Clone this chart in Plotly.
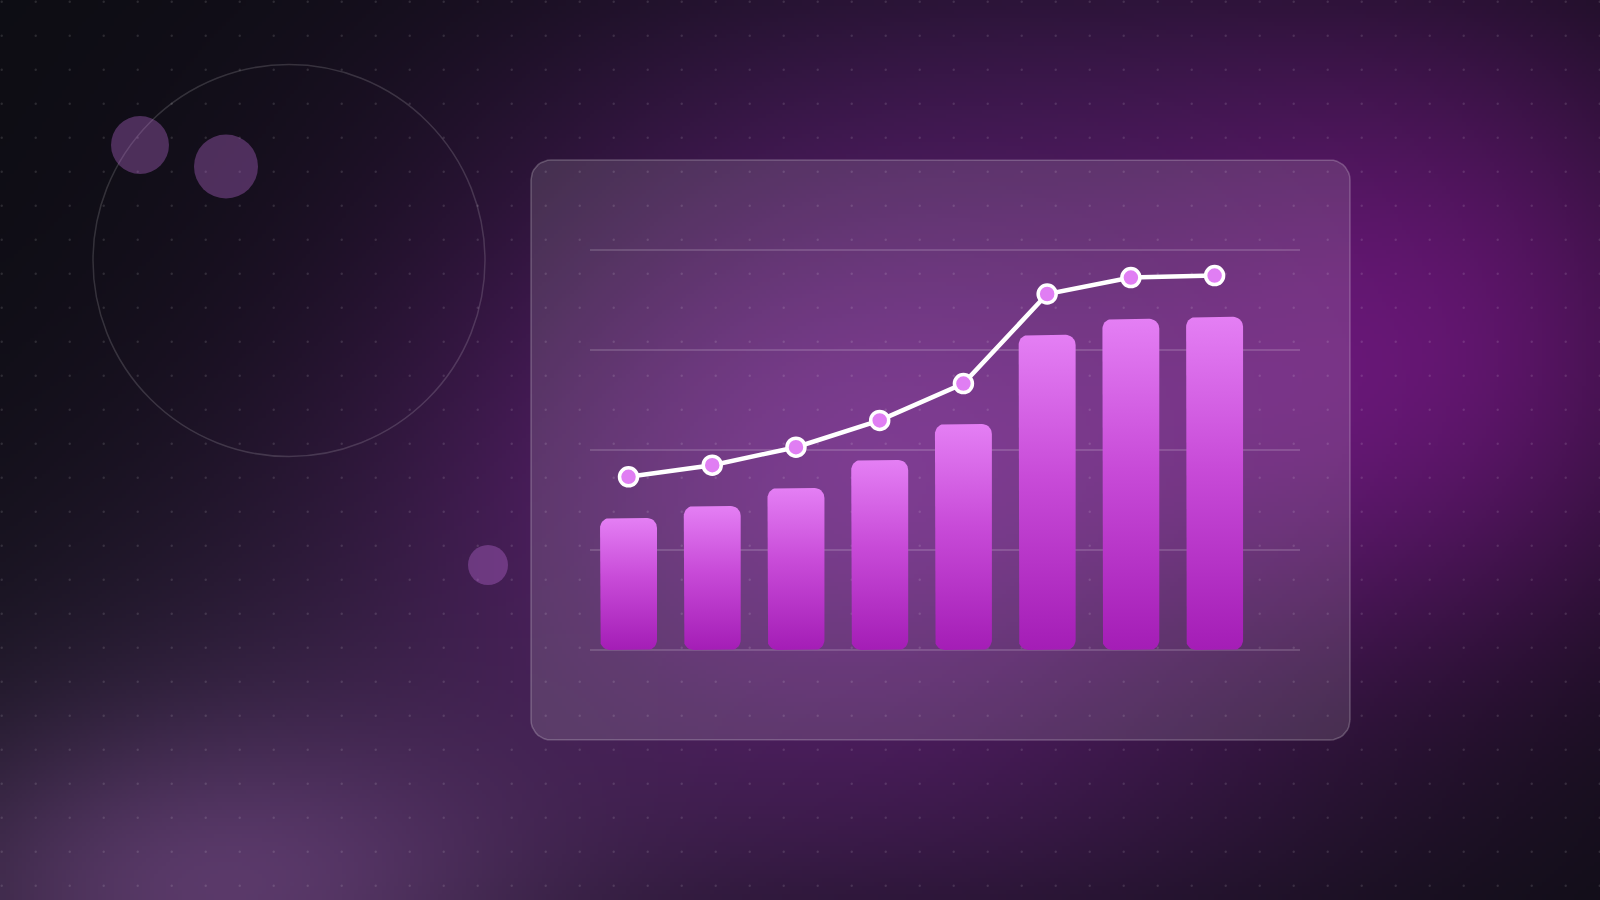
import base64
import struct
import zlib

import numpy as np
import plotly.graph_objects as go

W, H = 1600, 900

# ---------------- chart data ----------------
periods = ["P1", "P2", "P3", "P4", "P5", "P6", "P7", "P8"]
bar_values = [33.0, 36.0, 40.5, 47.5, 56.5, 78.8, 82.8, 83.3]
line_values = [43.3, 46.2, 50.7, 57.4, 66.6, 89.0, 93.1, 93.6]
grid_ticks = [0, 25, 50, 75, 100]

# ---------------- styling ----------------
BAR_TOP = "#e47ff4"
BAR_MID = "#c84bd8"
BAR_BOT = "#a41db6"
MARKER_FILL = "#e07ef3"
X_RANGE = [-0.46, 8.02]
Y_RANGE = [-0.5, 100.5]
PLOT_X0, PLOT_X1 = 590, 1300          # px
PLOT_Y0, PLOT_Y1 = 248, 652           # px (top, bottom)
BAR_HALF = 0.34
BAR_RADIUS_PX = 10


# ---------------- background picture (pure decoration) ----------------
def png_data_uri(arr):
    h, w, _ = arr.shape
    raw = b"".join(b"\x00" + arr[r].tobytes() for r in range(h))

    def chunk(tag, data):
        return (struct.pack(">I", len(data)) + tag + data
                + struct.pack(">I", zlib.crc32(tag + data) & 0xFFFFFFFF))

    png = (b"\x89PNG\r\n\x1a\n"
           + chunk(b"IHDR", struct.pack(">IIBBBBB", w, h, 8, 2, 0, 0, 0))
           + chunk(b"IDAT", zlib.compress(raw, 9))
           + chunk(b"IEND", b""))
    return "data:image/png;base64," + base64.b64encode(png).decode()


GW, GH = 400, 225
u = (np.arange(GW) + 0.5) * W / GW
v = (np.arange(GH) + 0.5) * H / GH
U, V = np.meshgrid(u, v)
img = np.zeros((GH, GW, 3)) + np.array([13, 13, 19], float)
glows = [
    # cx, cy, sx, sy, rgb added at peak
    (1450, 340, 230, 220, (66, 5, 70)),
    (880, 460, 330, 260, (90, 19, 106)),
    (200, 905, 240, 130, (62, 36, 68)),
    (300, 720, 330, 200, (18, 12, 22)),
    (1000, 850, 350, 100, (10, 4, 12)),
    (1100, 60, 400, 120, (12, 4, 16)),
]
for cx, cy, sx, sy, col in glows:
    g = np.exp(-0.5 * (((U - cx) / sx) ** 2 + ((V - cy) / sy) ** 2))
    img += g[..., None] * np.array(col, float)
img = np.clip(img, 0, 255).astype(np.uint8)
bg_uri = png_data_uri(img)


def rounded_rect(x0, x1, y0, y1, rx, ry, n=10):
    pts = []
    corners = [
        (x1 - rx, y1 - ry, 0), (x0 + rx, y1 - ry, 90),
        (x0 + rx, y0 + ry, 180), (x1 - rx, y0 + ry, 270),
    ]
    for cx, cy, a0 in corners:
        for t in np.linspace(np.radians(a0), np.radians(a0 + 90), n):
            pts.append((cx + rx * np.cos(t), cy + ry * np.sin(t)))
    pts.append(pts[0])
    return [p[0] for p in pts], [p[1] for p in pts]


fig = go.Figure()

# ---- background subplot (x / y, pixel coordinates, y down) ----
# glass panel
px, py = rounded_rect(531, 1350, 160, 740, 20, 20)
fig.add_trace(go.Scatter(
    x=px, y=py, mode="lines", fill="toself",
    fillcolor="rgba(255,255,255,0.12)",
    line=dict(color="rgba(255,255,255,0.22)", width=1.5),
    hoverinfo="skip", showlegend=False, xaxis="x", yaxis="y"))

# dot grid
dot_x = [1.7 + 34 * k for k in range(48)]
dot_y = [1.7 + 34 * k for k in range(27)]
DX, DY = np.meshgrid(dot_x, dot_y)
fig.add_trace(go.Scatter(
    x=DX.ravel(), y=DY.ravel(), mode="markers",
    marker=dict(size=2.4, color="rgba(255,255,255,0.12)", line=dict(width=0)),
    hoverinfo="skip", showlegend=False, xaxis="x", yaxis="y"))

# large outlined circle
fig.add_trace(go.Scatter(
    x=[289], y=[260.5], mode="markers",
    marker=dict(size=392, color="rgba(0,0,0,0)",
                line=dict(color="rgba(255,255,255,0.15)", width=1.5)),
    hoverinfo="skip", showlegend=False, xaxis="x", yaxis="y"))

# small filled circles
fig.add_trace(go.Scatter(
    x=[140, 226, 488], y=[145, 166.5, 565], mode="markers",
    marker=dict(size=[58, 64, 40], color="rgba(196,112,222,0.48)",
                line=dict(width=0)),
    hoverinfo="skip", showlegend=False, xaxis="x", yaxis="y"))

# ---- chart subplot (x2 / y2) ----
px_per_x = (PLOT_X1 - PLOT_X0) / (X_RANGE[1] - X_RANGE[0])
px_per_y = (PLOT_Y1 - PLOT_Y0) / (Y_RANGE[1] - Y_RANGE[0])
rx = BAR_RADIUS_PX / px_per_x
ry = BAR_RADIUS_PX / px_per_y
for i, (name, val) in enumerate(zip(periods, bar_values)):
    bx, by = rounded_rect(i - BAR_HALF, i + BAR_HALF, 0, val, rx, ry)
    fig.add_trace(go.Scatter(
        x=bx, y=by, mode="lines", fill="toself",
        fillgradient=dict(type="vertical",
                          colorscale=[[0, BAR_BOT], [0.55, BAR_MID], [1, BAR_TOP]],
                          start=0, stop=val),
        line=dict(width=0, color="rgba(0,0,0,0)"),
        name=name, hoverinfo="skip", showlegend=False,
        xaxis="x2", yaxis="y2"))

fig.add_trace(go.Scatter(
    x=list(range(len(periods))), y=line_values, mode="lines+markers",
    line=dict(color="white", width=4.5),
    marker=dict(size=18, color=MARKER_FILL, line=dict(color="white", width=3.5)),
    text=periods, hoverinfo="text+y", showlegend=False,
    xaxis="x2", yaxis="y2"))

fig.update_layout(
    width=W, height=H,
    margin=dict(l=0, r=0, t=0, b=0),
    paper_bgcolor="#141219",
    plot_bgcolor="rgba(0,0,0,0)",
    showlegend=False,
    images=[dict(source=bg_uri, xref="paper", yref="paper", x=0, y=1,
                 sizex=1, sizey=1, sizing="stretch", xanchor="left",
                 yanchor="top", layer="below")],
    xaxis=dict(domain=[0, 1], range=[0, W], visible=False, fixedrange=True),
    yaxis=dict(domain=[0, 1], range=[H, 0], visible=False, fixedrange=True),
    xaxis2=dict(domain=[PLOT_X0 / W, PLOT_X1 / W], range=X_RANGE,
                visible=False, anchor="y2", fixedrange=True),
    yaxis2=dict(domain=[1 - PLOT_Y1 / H, 1 - PLOT_Y0 / H], range=Y_RANGE,
                anchor="x2", tickvals=grid_ticks, showticklabels=False,
                showgrid=True, gridcolor="rgba(255,255,255,0.15)", gridwidth=1.5,
                zeroline=False, showline=False, ticks="", fixedrange=True),
)

fig.write_html(
    "out.html",
    config={"displayModeBar": False},
    post_script="document.body.style.margin='0';document.body.style.overflow='hidden';",
)
